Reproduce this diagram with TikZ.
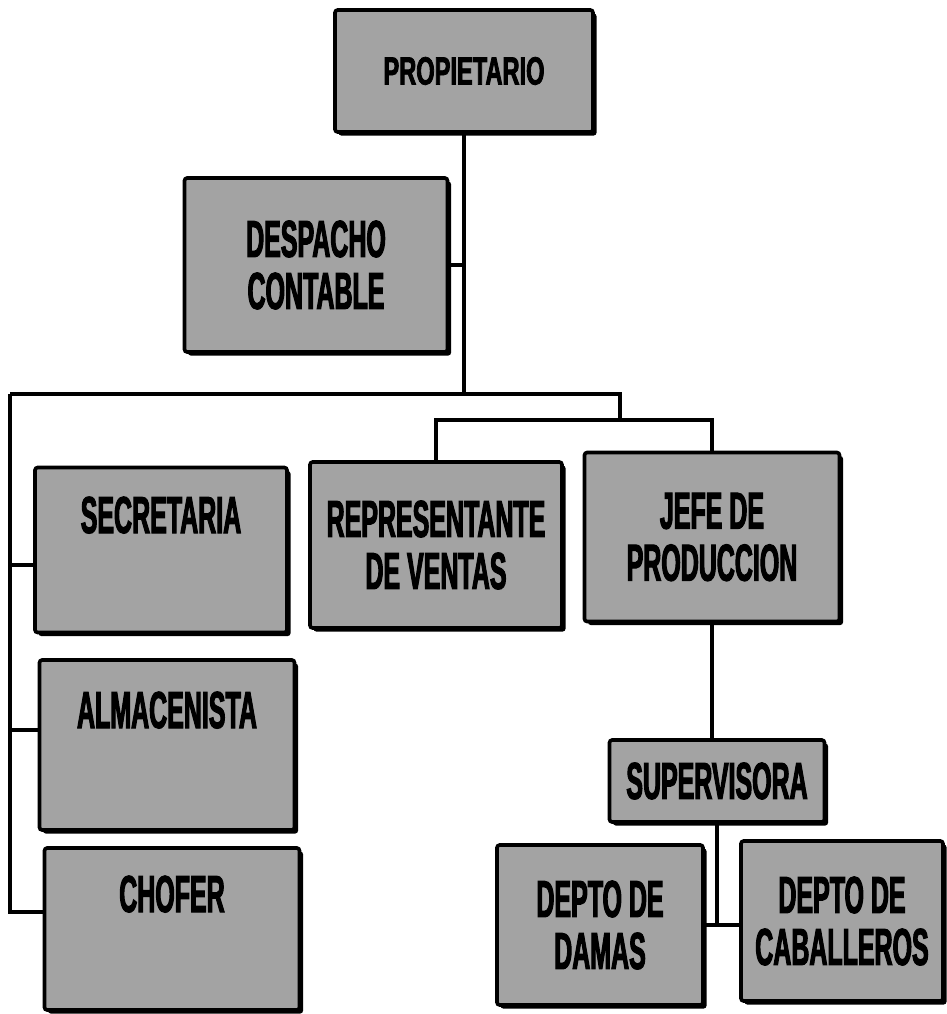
\documentclass[tikz,border=0pt]{standalone}
\usepackage{fontspec}
\setmainfont{Liberation Sans}
\newfontfamily\narrowfont[FakeStretch=0.48,FakeBold=2]{Liberation Sans}
\newfontfamily\propfont[FakeStretch=0.6,FakeBold=2]{Liberation Sans}
\usetikzlibrary{shadows}

\tikzset{
  puesto/.style={draw=black, line width=2.6pt, fill=black!36, rounded corners=2pt,
    drop shadow={shadow xshift=2.5pt, shadow yshift=-2.5pt, fill=black, opacity=1},
    align=center, inner sep=0pt,
    font=\narrowfont\bfseries\fontsize{37}{37}\selectfont},
  arriba/.style={text height=0.85cm, text depth=1.7cm},
  linea/.style={line width=2.3pt}
}

\begin{document}
\begin{tikzpicture}[x=0.025cm,y=-0.025cm]
  % Boundary
  \useasboundingbox (0,0) rectangle (947,1014);
  % Top
  \node[puesto, minimum width=6.45cm, minimum height=3.05cm,
    font=\propfont\bfseries\fontsize{28}{34}\selectfont] (prop) at (464,71) {PROPIETARIO};
  \node[puesto, minimum width=6.575cm, minimum height=4.35cm] (desp) at (316,265) {DESPACHO\\CONTABLE};
  % Second level
  \node[puesto, arriba, minimum width=6.3cm, minimum height=4.125cm] (secre) at (161,550) {SECRETARIA};
  \node[puesto, minimum width=6.3cm, minimum height=4.15cm] (repre) at (436,545) {REPRESENTANTE\\DE VENTAS};
  \node[puesto, minimum width=6.375cm, minimum height=4.225cm] (jefe) at (712,537) {JEFE DE\\PRODUCCION};
  \node[puesto, arriba, minimum width=6.375cm, minimum height=4.25cm] (alma) at (167,745) {ALMACENISTA};
  \node[puesto, arriba, minimum width=6.375cm, minimum height=4.05cm] (chofer) at (172,929) {CHOFER};
  % Production
  \node[puesto, minimum width=5.375cm, minimum height=2.05cm] (superv) at (717,781) {SUPERVISORA};
  \node[puesto, minimum width=5.15cm, minimum height=4.0cm] (damas) at (600,925) {DEPTO DE\\DAMAS};
  \node[puesto, minimum width=5.05cm, minimum height=4.0cm] (cab) at (842,921) {DEPTO DE\\CABALLEROS};
  % Bus lines
  \coordinate (bus) at (464,394);
  \coordinate (izq) at (10,394);
  \coordinate (der) at (620,394);
  \coordinate (sub) at (620,420);
  % Connectors
  \draw[linea] (prop.south) -- (bus);
  \draw[linea] (desp.east) -- (desp.east -| prop.south);
  \draw[linea] (izq) -- (der) -- (sub);
  \draw[linea] (repre.north) |- (sub) -| (jefe.north);
  \draw[linea] (izq) |- ([yshift=-0.375cm]secre.west);
  \draw[linea] (izq) |- ([yshift=0.375cm]alma.west);
  \draw[linea] (izq) |- ([yshift=0.425cm]chofer.west);
  \draw[linea] (jefe.south) -- (jefe.south |- superv.north);
  \draw[linea] (damas.east) -- (damas.east -| cab.west);
  \draw[linea] (superv.south) -- (superv.south |- damas.east);
\end{tikzpicture}
\end{document}
